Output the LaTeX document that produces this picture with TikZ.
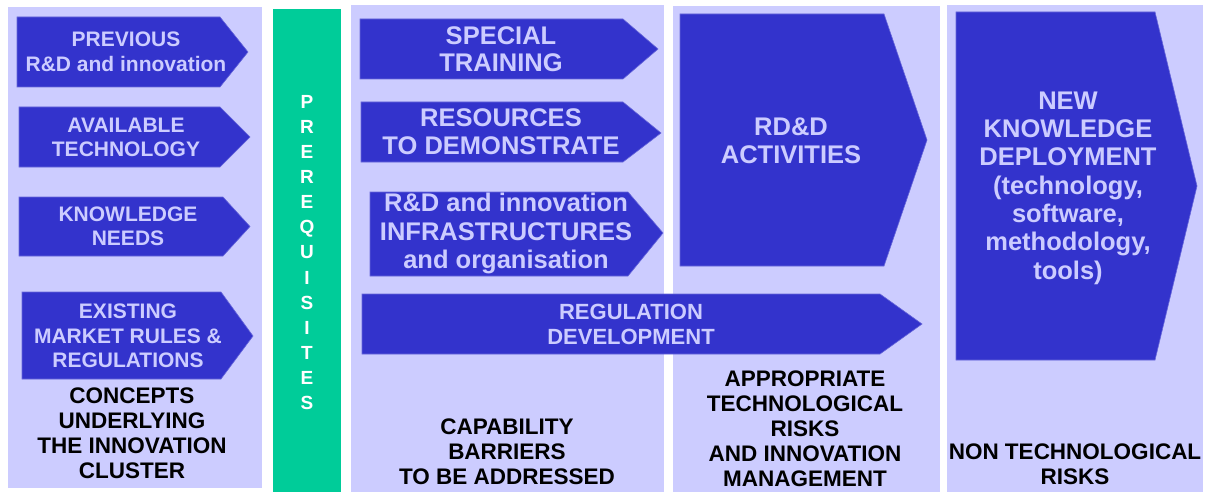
\documentclass[tikz,border=0pt]{standalone}
\usepackage{fontspec}
\setmainfont{Liberation Sans}

\definecolor{panelbg}{HTML}{CCCCFF}
\definecolor{arrowblue}{HTML}{3333CC}
\definecolor{arrowtext}{HTML}{CCCCFF}
\definecolor{prereqgreen}{HTML}{00CC99}

\tikzset{
  panel/.style={fill=panelbg},
  chevron/.style={fill=arrowblue, draw=arrowblue!75!white, line width=0.6pt},
  smalltext/.style={text=arrowtext, inner sep=0pt, align=center,
    font=\bfseries\fontsize{21}{24.5}\selectfont},
  bigtext/.style={text=arrowtext, inner sep=0pt, align=center,
    font=\bfseries\fontsize{25}{28}\selectfont},
  risktext/.style={text=black, inner sep=0pt, align=center,
    font=\bfseries\fontsize{22.5}{25}\selectfont},
}

\begin{document}
\begin{tikzpicture}[x=1pt,y=-1pt]
\useasboundingbox (0,0) rectangle (1206,492);

% background panels
\fill[panel] (8,7) rectangle (262,488);
\fill[prereqgreen] (273,9) rectangle (341,492);
\fill[panel] (351,5) rectangle (664,492);
\fill[panel] (673,6) rectangle (940,492);
\fill[panel] (947,5) rectangle (1203,492);

% concepts
\draw[chevron] (17,17) -- (220,17) -- (248,52) -- (220,87) -- (17,87) -- cycle;
\draw[chevron] (19,107) -- (220,107) -- (250,137) -- (220,167) -- (19,167) -- cycle;
\draw[chevron] (19,197) -- (223,197) -- (250,226.5) -- (223,256) -- (19,256) -- cycle;
\draw[chevron] (22,292) -- (221,292) -- (253,336) -- (221,379) -- (22,379) -- cycle;

\node[smalltext] (previous) at (126,52) {PREVIOUS\\R\&D and innovation};
\node[smalltext] (available) at (126,137.5) {AVAILABLE\\TECHNOLOGY};
\node[smalltext] (needs) at (128,226.5) {KNOWLEDGE\\NEEDS};
\node[smalltext] (existing) at (128,336) {EXISTING\\MARKET RULES \&\\REGULATIONS};
\node[risktext] (concepts) at (132,433) {CONCEPTS\\UNDERLYING\\THE INNOVATION\\CLUSTER};

% prerequisites
\node[text=white, inner sep=0pt, align=center,
  font=\bfseries\fontsize{19}{25.1}\selectfont] (prereq) at (307,252.5)
  {P\\R\\E\\R\\E\\Q\\U\\I\\S\\I\\T\\E\\S};

% capability barriers
\draw[chevron] (360,19) -- (623,19) -- (658,49) -- (623,79) -- (360,79) -- cycle;
\draw[chevron] (361,102) -- (623,102) -- (661,133) -- (623,162) -- (361,162) -- cycle;
\draw[chevron] (370,192) -- (628,192) -- (663,233) -- (628,276) -- (370,276) -- cycle;
\draw[chevron] (362,294) -- (880,294) -- (922,324) -- (880,354) -- (362,354) -- cycle;

\node[bigtext, font=\bfseries\fontsize{25.5}{27}\selectfont] (training) at (501,49.5) {SPECIAL\\TRAINING};
\node[bigtext, font=\bfseries\fontsize{25.5}{28}\selectfont] (resources) at (501,132) {RESOURCES\\TO DEMONSTRATE};
\node[bigtext, font=\bfseries\fontsize{25.5}{28.5}\selectfont] (infra) at (506,233.5) {R\&D and innovation\\INFRASTRUCTURES\\and organisation};
\node[smalltext, font=\bfseries\fontsize{22}{25}\selectfont] (regulation) at (631,324.5) {REGULATION\\DEVELOPMENT};
\node[risktext] (capability) at (507,452) {CAPABILITY\\BARRIERS\\TO BE ADDRESSED};

% technological risks
\draw[chevron] (680,14) -- (884,14) -- (927,140) -- (884,266) -- (680,266) -- cycle;
\node[bigtext, font=\bfseries\fontsize{25.5}{27.5}\selectfont] (rdd) at (791,141) {RD\&D\\ACTIVITIES};
\node[risktext] (techrisks) at (805,429) {APPROPRIATE\\TECHNOLOGICAL\\RISKS\\AND INNOVATION\\MANAGEMENT};

% non technological risks
\draw[chevron] (956,12) -- (1155,12) -- (1197,186) -- (1155,360) -- (956,360) -- cycle;
\node[bigtext, font=\bfseries\fontsize{25.5}{28.3}\selectfont] (deploy) at (1068,188) {NEW\\KNOWLEDGE\\DEPLOYMENT\\(technology,\\software,\\methodology,\\tools)};
\node[risktext] (nontech) at (1075,464.5) {NON TECHNOLOGICAL\\RISKS};
\end{tikzpicture}
\end{document}
